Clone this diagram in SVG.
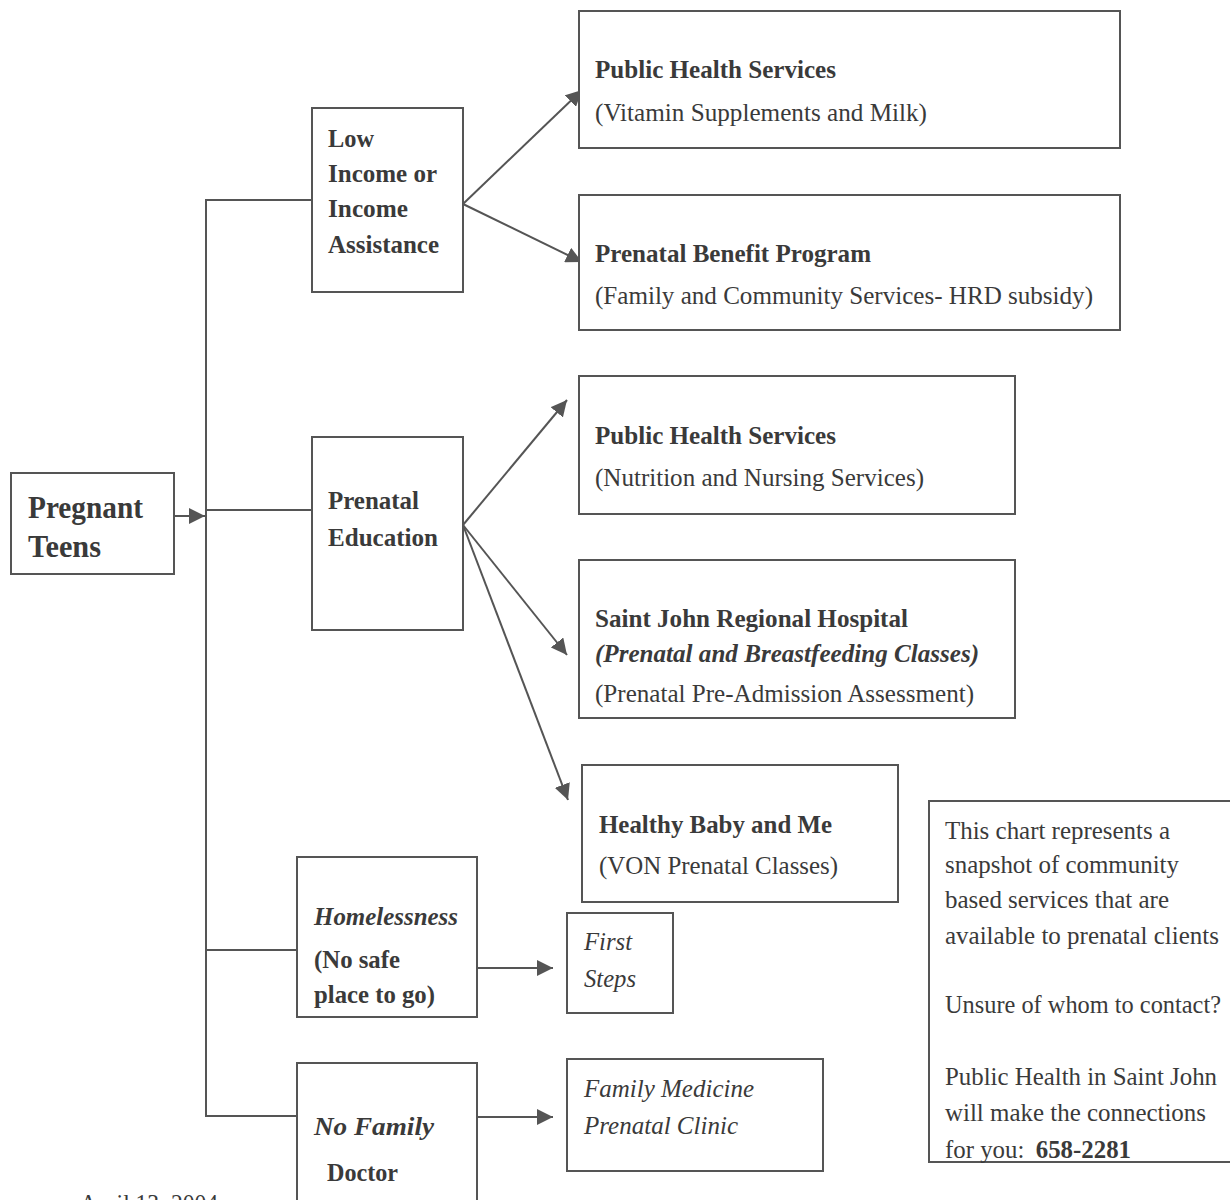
<svg xmlns="http://www.w3.org/2000/svg" width="1230" height="1200" viewBox="0 0 1230 1200">
<defs>
<style>
.box{fill:#fff;stroke:#555;stroke-width:2}
.ln{fill:none;stroke:#555;stroke-width:2}
text{font-family:"Liberation Serif","Times New Roman",serif;fill:#3a3a3a;font-size:26px}
.b{font-weight:bold}
.i{font-style:italic}
.big{font-size:31px}
</style>
<marker id="ah" viewBox="0 0 10 10" refX="10" refY="5" markerWidth="8" markerHeight="8" markerUnits="strokeWidth" orient="auto">
<path d="M0,0 L10,5 L0,10 z" fill="#555"/>
</marker>
</defs>
<rect width="1230" height="1200" fill="#fff"/>

<g id="connectors">
<line class="ln" x1="174" y1="516" x2="205" y2="516" marker-end="url(#ah)"/>
<polyline class="ln" points="312,200 206,200 206,1116 297,1116"/>
<line class="ln" x1="206" y1="510" x2="312" y2="510"/>
<line class="ln" x1="206" y1="950" x2="297" y2="950"/>
<line class="ln" x1="463" y1="204" x2="582" y2="90" marker-end="url(#ah)"/>
<line class="ln" x1="463" y1="204" x2="582" y2="262" marker-end="url(#ah)"/>
<line class="ln" x1="463" y1="525" x2="567" y2="400" marker-end="url(#ah)"/>
<line class="ln" x1="463" y1="525" x2="567" y2="655" marker-end="url(#ah)"/>
<line class="ln" x1="463" y1="525" x2="568" y2="800" marker-end="url(#ah)"/>
<line class="ln" x1="477" y1="968" x2="553" y2="968" marker-end="url(#ah)"/>
<line class="ln" x1="477" y1="1117" x2="553" y2="1117" marker-end="url(#ah)"/>
</g>

<g id="pregnant-teens">
<rect class="box" x="11" y="473" width="163" height="101"/>
<text class="b big" x="28" y="518" textLength="115" lengthAdjust="spacingAndGlyphs">Pregnant</text>
<text class="b big" x="28" y="557" textLength="73" lengthAdjust="spacingAndGlyphs">Teens</text>
</g>

<g id="low-income">
<rect class="box" x="312" y="108" width="151" height="184"/>
<text class="b" x="328" y="147" textLength="46" lengthAdjust="spacingAndGlyphs">Low</text>
<text class="b" x="328" y="182" textLength="109" lengthAdjust="spacingAndGlyphs">Income or</text>
<text class="b" x="328" y="217" textLength="80" lengthAdjust="spacingAndGlyphs">Income</text>
<text class="b" x="328" y="253" textLength="111" lengthAdjust="spacingAndGlyphs">Assistance</text>
</g>

<g id="prenatal-education">
<rect class="box" x="312" y="437" width="151" height="193"/>
<text class="b" x="328" y="509" textLength="91" lengthAdjust="spacingAndGlyphs">Prenatal</text>
<text class="b" x="328" y="546" textLength="110" lengthAdjust="spacingAndGlyphs">Education</text>
</g>

<g id="homelessness">
<rect class="box" x="297" y="857" width="180" height="160"/>
<text class="b i" x="314" y="925" textLength="144" lengthAdjust="spacingAndGlyphs">Homelessness</text>
<text class="b" x="314" y="968" textLength="86" lengthAdjust="spacingAndGlyphs">(No safe</text>
<text class="b" x="314" y="1003" textLength="121" lengthAdjust="spacingAndGlyphs">place to go)</text>
</g>

<g id="no-family-doctor">
<rect class="box" x="297" y="1063" width="180" height="150"/>
<text class="b i" x="314" y="1135" textLength="120" lengthAdjust="spacingAndGlyphs">No Family</text>
<text class="b" x="327" y="1181" textLength="71" lengthAdjust="spacingAndGlyphs">Doctor</text>
</g>

<g id="public-health-1">
<rect class="box" x="579" y="11" width="541" height="137"/>
<text class="b" x="595" y="78" textLength="241" lengthAdjust="spacingAndGlyphs">Public Health Services</text>
<text x="595" y="121" textLength="332" lengthAdjust="spacingAndGlyphs">(Vitamin Supplements and Milk)</text>
</g>

<g id="prenatal-benefit">
<rect class="box" x="579" y="195" width="541" height="135"/>
<text class="b" x="595" y="262" textLength="276" lengthAdjust="spacingAndGlyphs">Prenatal Benefit Program</text>
<text x="595" y="304" textLength="498" lengthAdjust="spacingAndGlyphs">(Family and Community Services- HRD subsidy)</text>
</g>

<g id="public-health-2">
<rect class="box" x="579" y="376" width="436" height="138"/>
<text class="b" x="595" y="444" textLength="241" lengthAdjust="spacingAndGlyphs">Public Health Services</text>
<text x="595" y="486" textLength="329" lengthAdjust="spacingAndGlyphs">(Nutrition and Nursing Services)</text>
</g>

<g id="saint-john-hospital">
<rect class="box" x="579" y="560" width="436" height="158"/>
<text class="b" x="595" y="627" textLength="313" lengthAdjust="spacingAndGlyphs">Saint John Regional Hospital</text>
<text class="b i" x="595" y="662" textLength="384" lengthAdjust="spacingAndGlyphs">(Prenatal and Breastfeeding Classes)</text>
<text x="595" y="702" textLength="379" lengthAdjust="spacingAndGlyphs">(Prenatal Pre-Admission Assessment)</text>
</g>

<g id="healthy-baby">
<rect class="box" x="582" y="765" width="316" height="137"/>
<text class="b" x="599" y="833" textLength="233" lengthAdjust="spacingAndGlyphs">Healthy Baby and Me</text>
<text x="599" y="874" textLength="239" lengthAdjust="spacingAndGlyphs">(VON Prenatal Classes)</text>
</g>

<g id="first-steps">
<rect class="box" x="567" y="913" width="106" height="100"/>
<text class="i" x="584" y="950" textLength="48" lengthAdjust="spacingAndGlyphs">First</text>
<text class="i" x="584" y="987" textLength="52" lengthAdjust="spacingAndGlyphs">Steps</text>
</g>

<g id="family-medicine">
<rect class="box" x="567" y="1059" width="256" height="112"/>
<text class="i" x="584" y="1097" textLength="170" lengthAdjust="spacingAndGlyphs">Family Medicine</text>
<text class="i" x="584" y="1134" textLength="154" lengthAdjust="spacingAndGlyphs">Prenatal Clinic</text>
</g>

<g id="info-box">
<rect class="box" x="929" y="801" width="310" height="361"/>
<text x="945" y="839" textLength="225" lengthAdjust="spacingAndGlyphs">This chart represents a</text>
<text x="945" y="873" textLength="234" lengthAdjust="spacingAndGlyphs">snapshot of community</text>
<text x="945" y="908" textLength="224" lengthAdjust="spacingAndGlyphs">based services that are</text>
<text x="945" y="944" textLength="274" lengthAdjust="spacingAndGlyphs">available to prenatal clients</text>
<text x="945" y="1013" textLength="276" lengthAdjust="spacingAndGlyphs">Unsure of whom to contact?</text>
<text x="945" y="1085" textLength="272" lengthAdjust="spacingAndGlyphs">Public Health in Saint John</text>
<text x="945" y="1121" textLength="261" lengthAdjust="spacingAndGlyphs">will make the connections</text>
<text x="945" y="1158" textLength="186" lengthAdjust="spacingAndGlyphs">for you:<tspan class="b" dx="12">658-2281</tspan></text>
</g>

<text x="80" y="1212" font-size="22" textLength="138" lengthAdjust="spacingAndGlyphs">April 13, 2004</text>
</svg>
